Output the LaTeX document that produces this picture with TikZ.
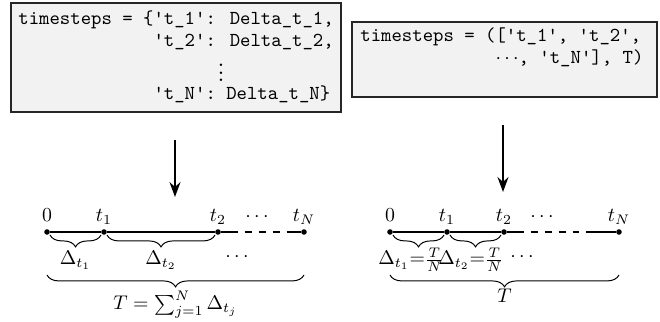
\documentclass[tikz,border=0pt]{standalone}
\usetikzlibrary{arrows.meta,decorations.pathreplacing}
\newcommand\squote{\textquotesingle}
\begin{document}
\begin{tikzpicture}[x=0.505pt,y=0.505pt,
  codebox/.style={draw=black!85, fill=black!5, line width=0.6pt, inner sep=0pt},
  code/.style={font=\ttfamily, anchor=base west, inner sep=0pt},
  flow/.style={-{Stealth[length=7.5pt,width=5.5pt]}, line width=1.1pt},
  tick/.style={circle, fill, inner sep=0pt, minimum size=2.8pt},
  tlab/.style={anchor=base, inner sep=0pt},
  axis/.style={line width=0.6pt},
  gapdash/.style={axis, dash pattern=on 3.5pt off 3.5pt, dash phase=3.5pt},
  brc/.style={decorate, decoration={brace, mirror, amplitude=6pt}, line width=0.5pt}
]
\useasboundingbox (0,0) rectangle (660,-322);

% code boxes
\node[codebox, minimum width=330*0.505pt, minimum height=109*0.505pt] (lbox) at (176,-57.5) {};
\node[codebox, minimum width=305*0.505pt, minimum height=75*0.505pt] (rbox) at (504.5,-59.5) {};

\node[code] (c1) at (18,-25) {timesteps = \{\squote t\_1\squote: Delta\_t\_1,};
\node[code] (c2) at (18,-47) {\hphantom{timesteps = \{}\squote t\_2\squote: Delta\_t\_2,};
\node[code] (c3) at (18,-82) {\hphantom{timesteps = \{\squote t\_1\squote:}\makebox[0.525em]{\smash{$\vdots$}}};
\node[code] (c4) at (18,-100) {\hphantom{timesteps = \{}\squote t\_N\squote: Delta\_t\_N\}};

\node[code] (d1) at (360,-42) {timesteps = ([\squote t\_1\squote, \squote t\_2\squote,};
\node[code] (d2) at (360,-64) {\hphantom{timesteps = (}$\cdots$, \squote t\_N\squote], T)};

% arrows
\coordinate (la) at (175,-140);
\coordinate (lb) at (175,-197);
\coordinate (ra) at (503,-125);
\coordinate (rb) at (503,-192);
\draw[flow] (la) -- (lb);
\draw[flow] (ra) -- (rb);

% left time line
\node[tick] (l0) at (47,-232) {};
\node[tick] (l1) at (104,-232) {};
\node[tick] (l2) at (218,-232) {};
\node[tick] (lN) at (304,-232) {};
\coordinate (lda) at (238,-232);
\coordinate (ldb) at (292,-232);
\draw[axis] (l0) -- (l1) -- (l2) -- (lda);
\draw[gapdash] (lda) -- (ldb);
\draw[axis] (ldb) -- (lN);

\node[tlab] (l0t) at (47,-222) {$0$};
\node[tlab] (l1t) at (104,-222) {$t_1$};
\node[tlab] (l2t) at (218,-222) {$t_2$};
\node[tlab] (ldt) at (257,-222) {$\cdots$};
\node[tlab] (lNt) at (304,-222) {$t_N$};

\draw[brc] ([shift={(3,-3)}]l0.center) -- ([shift={(-3,-3)}]l1.center);
\draw[brc] ([shift={(3,-3)}]l1.center) -- ([shift={(-3,-3)}]l2.center);
\draw[brc] ([shift={(0,-43)}]l0.center) -- ([shift={(0,-43)}]lN.center);

\node[tlab] (ld1) at (75.5,-265) {$\Delta_{t_1}$};
\node[tlab] (ld2) at (161,-265) {$\Delta_{t_2}$};
\node[tlab] (ld3) at (237,-262) {$\cdots$};
\node[tlab] (lT) at (175.5,-310) {$T=\sum_{j=1}^{N}\Delta_{t_j}$};

% right time line
\node[tick] (r0) at (390,-232) {};
\node[tick] (r1) at (447,-232) {};
\node[tick] (r2) at (504,-232) {};
\node[tick] (rN) at (619,-232) {};
\coordinate (rda) at (524,-232);
\coordinate (rdb) at (588,-232);
\draw[axis] (r0) -- (r1) -- (r2) -- (rda);
\draw[gapdash] (rda) -- (rdb);
\draw[axis] (rdb) -- (rN);

\node[tlab] (r0t) at (390,-222) {$0$};
\node[tlab] (r1t) at (447,-222) {$t_1$};
\node[tlab] (r2t) at (504,-222) {$t_2$};
\node[tlab] (rdt) at (542,-222) {$\cdots$};
\node[tlab] (rNt) at (619,-222) {$t_N$};

\draw[brc] ([shift={(3,-3)}]r0.center) -- ([shift={(-3,-3)}]r1.center);
\draw[brc] ([shift={(3,-3)}]r1.center) -- ([shift={(-3,-3)}]r2.center);
\draw[brc] ([shift={(0,-43)}]r0.center) -- ([shift={(0,-43)}]rN.center);

\node[tlab] (rd1) at (411,-265) {$\Delta_{t_1}{=}\frac{T}{N}$};
\node[tlab] (rd2) at (471,-265) {$\Delta_{t_2}{=}\frac{T}{N}$};
\node[tlab] (rd3) at (522,-262) {$\cdots$};
\node[tlab] (rT) at (504.5,-303) {$T$};
\end{tikzpicture}
\end{document}
